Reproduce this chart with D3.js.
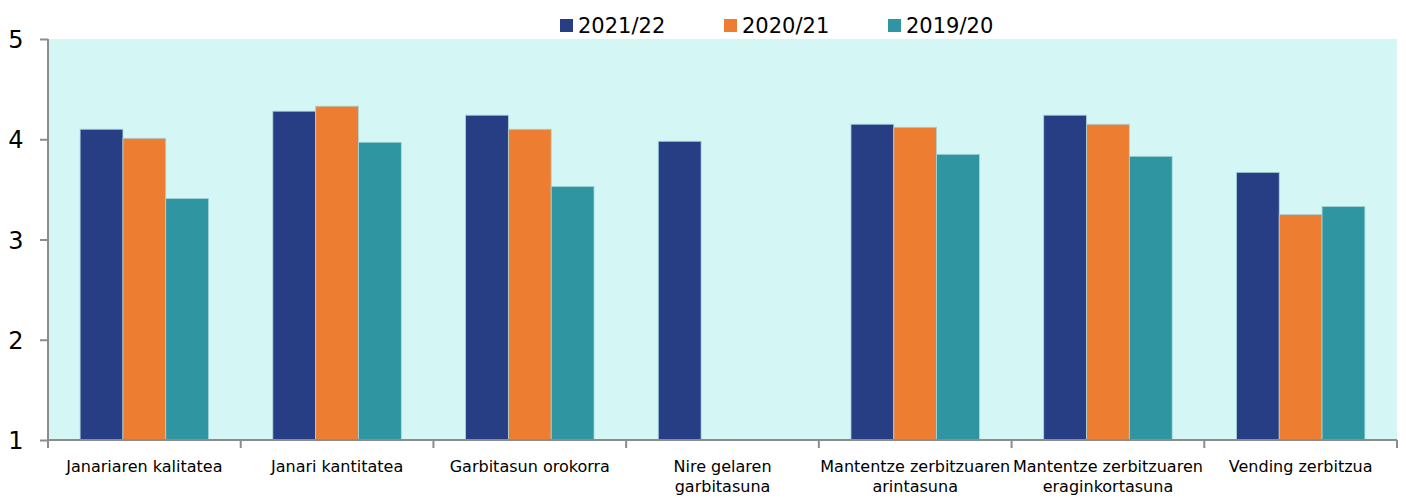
<!DOCTYPE html>
<html>
<head>
<meta charset="utf-8">
<script src="https://cdn.jsdelivr.net/npm/d3@7"></script>
<style>
  body { margin: 0; background: #fff; }
  text { font-family: "DejaVu Sans", Verdana, sans-serif; fill: #000; }
</style>
</head>
<body>
<div id="chart"></div>
<script>
var categories = [
  "Janariaren kalitatea",
  "Janari kantitatea",
  "Garbitasun orokorra",
  "Nire gelaren\ngarbitasuna",
  "Mantentze zerbitzuaren\narintasuna",
  "Mantentze zerbitzuaren\neraginkortasuna",
  "Vending zerbitzua"
];
var seriesNames = ["2021/22", "2020/21", "2019/20"];
var values2122 = [4.10, 4.28, 4.24, 3.98, 4.15, 4.24, 3.67];
var values2021 = [4.01, 4.33, 4.10, null, 4.12, 4.15, 3.25];
var values1920 = [3.41, 3.97, 3.53, null, 3.85, 3.83, 3.33];
var colors = ["#283e84", "#ed7d31", "#2f95a0"];
var yTicks = [1, 2, 3, 4, 5];

var svgWidth = 1406;
var svgHeight = 498;
var margin = { top: 39, right: 9, bottom: 58, left: 48 };
var width = svgWidth - margin.left - margin.right;
var height = svgHeight - margin.top - margin.bottom;

var svg = d3.select("#chart")
  .append("svg")
  .attr("width", svgWidth)
  .attr("height", svgHeight);

var chartGroup = svg.append("g")
  .attr("transform", `translate(${margin.left}, ${margin.top})`);

// plot background
chartGroup.append("rect")
  .attr("width", width)
  .attr("height", height)
  .attr("fill", "#d4f6f4");

var x0 = d3.scaleBand()
  .domain(categories)
  .range([0, width])
  .paddingInner(0)
  .paddingOuter(0);

var x1 = d3.scaleBand()
  .domain(seriesNames)
  .range([x0.bandwidth() / 6, x0.bandwidth() * 5 / 6]);

var y = d3.scaleLinear()
  .domain([1, 5])
  .range([height, 0]);

var allSeries = [values2122, values2021, values1920];
var rows = [];
categories.forEach(function(c, i) {
  seriesNames.forEach(function(s, j) {
    if (allSeries[j][i] != null) {
      rows.push({ cat: c, series: s, value: allSeries[j][i], color: colors[j] });
    }
  });
});

// bars
chartGroup.selectAll(".bar")
  .data(rows)
  .enter()
  .append("rect")
  .attr("class", "bar")
  .attr("x", d => x0(d.cat) + x1(d.series))
  .attr("y", d => y(d.value))
  .attr("width", x1.bandwidth())
  .attr("height", d => height - y(d.value))
  .attr("fill", d => d.color)
  .attr("stroke", "#a9d6dc")
  .attr("stroke-width", 0.8);

// y axis
var leftAxis = d3.axisLeft(y)
  .tickValues(yTicks)
  .tickFormat(d3.format("d"))
  .tickSize(8)
  .tickPadding(18);

var yAxis = chartGroup.append("g")
  .call(leftAxis);
yAxis.select(".domain").attr("stroke", "#8c8c8c").attr("stroke-width", 2)
  .attr("d", `M0,0V${height}`);
yAxis.selectAll(".tick line").attr("stroke", "#8c8c8c").attr("stroke-width", 2);
yAxis.selectAll(".tick text")
  .style("font-size", "24px")
  .attr("text-anchor", "middle")
  .attr("x", -32)
  .attr("dy", "0.36em");

// x axis
var bottomAxis = d3.axisBottom(x0).tickSize(0).tickFormat("");
var xAxis = chartGroup.append("g")
  .attr("transform", `translate(0, ${height})`)
  .call(bottomAxis);
xAxis.select(".domain").attr("stroke", "#8c8c8c").attr("stroke-width", 2)
  .attr("d", `M0,0H${width}`);

var boundaries = categories.map(c => x0(c)).concat([width]);
xAxis.selectAll(".sep")
  .data(boundaries)
  .enter()
  .append("line")
  .attr("class", "sep")
  .attr("x1", d => d)
  .attr("x2", d => d)
  .attr("y1", 0)
  .attr("y2", 8)
  .attr("stroke", "#8c8c8c")
  .attr("stroke-width", 2);

var labels = xAxis.selectAll(".xlabel")
  .data(categories)
  .enter()
  .append("text")
  .attr("class", "xlabel")
  .attr("text-anchor", "middle")
  .attr("transform", d => `translate(${x0(d) + x0.bandwidth() / 2}, 32)`)
  .style("font-size", "16px");

labels.selectAll("tspan")
  .data(d => d.split("\n"))
  .enter()
  .append("tspan")
  .attr("x", 0)
  .attr("y", (d, i) => i * 20)
  .text(d => d);

// legend
var legendX = [560, 724, 888];
var legend = svg.append("g");
var items = legend.selectAll(".item")
  .data(seriesNames)
  .enter()
  .append("g")
  .attr("class", "item")
  .attr("transform", (d, i) => `translate(${legendX[i]}, 0)`);

items.append("rect")
  .attr("x", 0)
  .attr("y", 19)
  .attr("width", 13)
  .attr("height", 13)
  .attr("fill", (d, i) => colors[i]);

items.append("text")
  .attr("x", 18)
  .attr("y", 33)
  .style("font-size", "21px")
  .text(d => d);
</script>
</body>
</html>
